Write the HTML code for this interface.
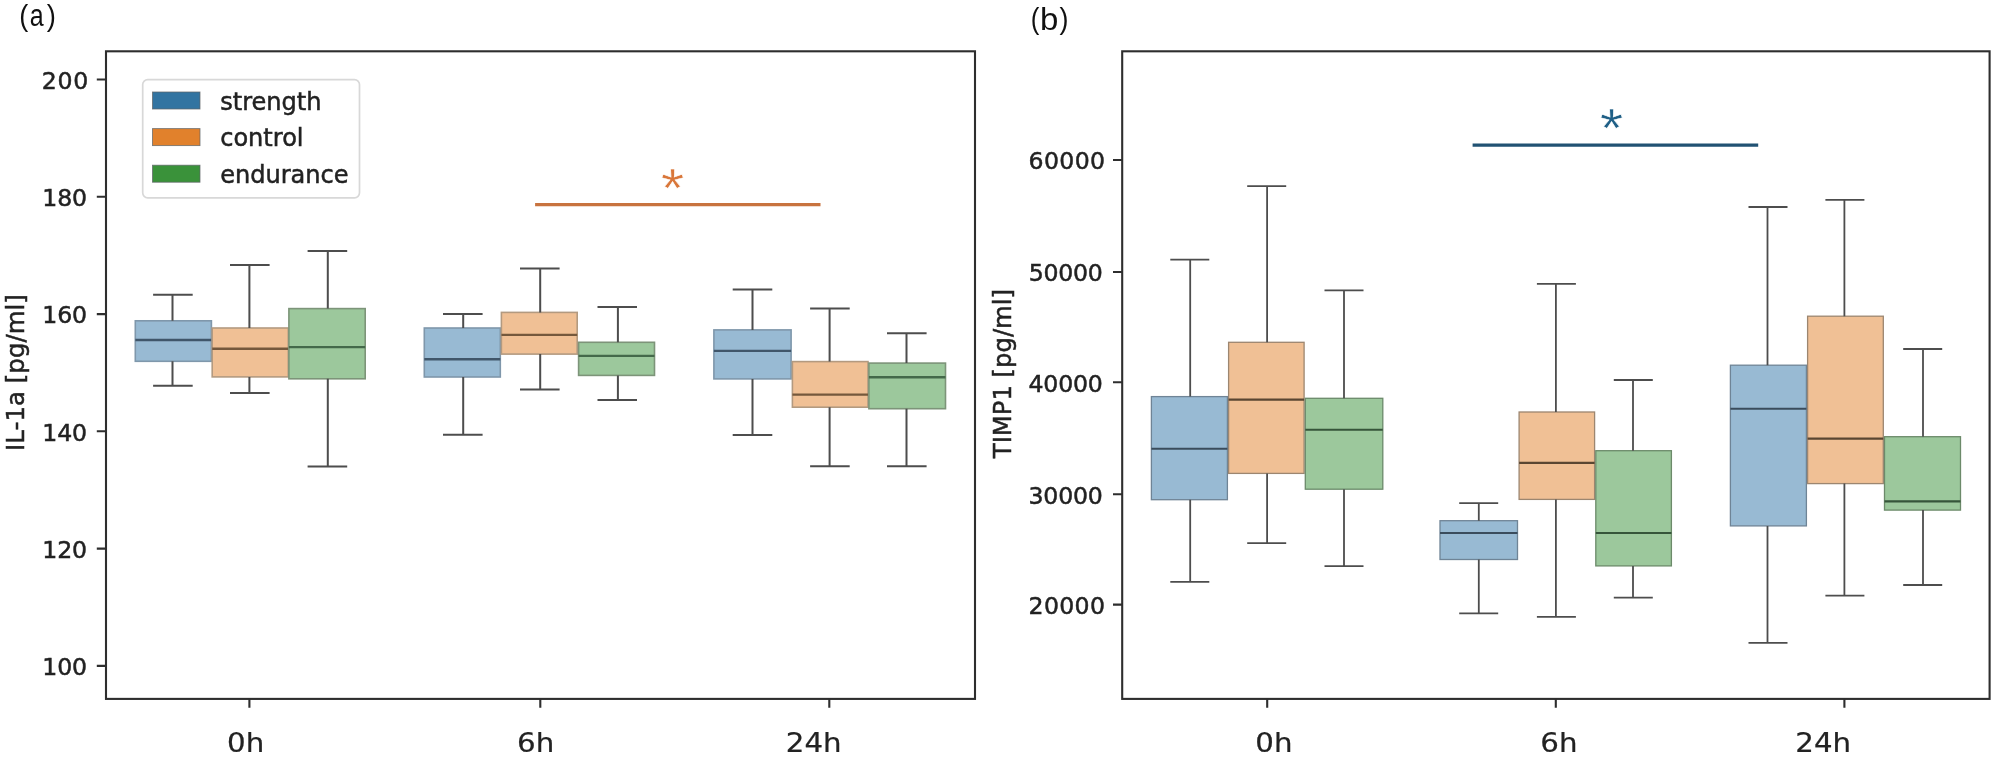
<!DOCTYPE html>
<html lang="en"><head><meta charset="utf-8"><title>Boxplots</title>
<style>
html,body{margin:0;padding:0;background:#fff}
svg{display:block;filter:blur(0.3px)}
text{font-family:"DejaVu Sans", "Liberation Sans", sans-serif;fill:#222;stroke:#222;stroke-width:0.5px}
.ast{font-family:"Liberation Mono","Liberation Sans",monospace;stroke:#fff;stroke-width:0.6px}
.cal{font-family:"Liberation Sans", "DejaVu Sans", sans-serif;fill:#111;stroke:none}
</style></head><body>
<svg width="2008" height="758" viewBox="0 0 2008 758">
<rect width="2008" height="758" fill="#fff"/>
<g id="panel-a">
<rect x="135.3" y="320.8" width="76.1" height="40.5" fill="#98bad3" stroke="#7f97ab" stroke-width="1.6"/>
<path d="M172.5 320.8V294.8M172.5 361.3V385.8M153.1 294.8H192.7M153.1 385.8H192.7" stroke="#4d4d4d" stroke-width="2.0" fill="none"/>
<path d="M135.3 340.0H211.4" stroke="#40566a" stroke-width="2.4" fill="none"/>
<rect x="212.2" y="328.0" width="76.1" height="48.9" fill="#f0c095" stroke="#b39a80" stroke-width="1.6"/>
<path d="M249.4 328.0V265.1M249.4 376.9V392.9M230.0 265.1H269.6M230.0 392.9H269.6" stroke="#4d4d4d" stroke-width="2.0" fill="none"/>
<path d="M212.2 348.8H288.3" stroke="#75583c" stroke-width="2.4" fill="none"/>
<rect x="288.9" y="308.6" width="76.3" height="70.2" fill="#9cc89c" stroke="#7d9479" stroke-width="1.6"/>
<path d="M327.8 308.6V251.0M327.8 378.8V466.4M307.6 251.0H347.2M307.6 466.4H347.2" stroke="#4d4d4d" stroke-width="2.0" fill="none"/>
<path d="M288.9 347.1H365.2" stroke="#44694a" stroke-width="2.4" fill="none"/>
<rect x="424.3" y="328.0" width="76.0" height="49.0" fill="#98bad3" stroke="#7f97ab" stroke-width="1.6"/>
<path d="M463.2 328.0V314.0M463.2 377.0V434.8M443.0 314.0H482.6M443.0 434.8H482.6" stroke="#4d4d4d" stroke-width="2.0" fill="none"/>
<path d="M424.3 359.3H500.3" stroke="#40566a" stroke-width="2.4" fill="none"/>
<rect x="501.4" y="312.4" width="75.8" height="41.7" fill="#f0c095" stroke="#b39a80" stroke-width="1.6"/>
<path d="M540.2 312.4V268.5M540.2 354.1V389.4M520.0 268.5H559.6M520.0 389.4H559.6" stroke="#4d4d4d" stroke-width="2.0" fill="none"/>
<path d="M501.4 334.9H577.2" stroke="#75583c" stroke-width="2.4" fill="none"/>
<rect x="578.6" y="342.3" width="75.9" height="33.1" fill="#9cc89c" stroke="#7d9479" stroke-width="1.6"/>
<path d="M617.9 342.3V307.1M617.9 375.4V399.9M597.5 307.1H637.0M597.5 399.9H637.0" stroke="#4d4d4d" stroke-width="2.0" fill="none"/>
<path d="M578.6 355.9H654.5" stroke="#44694a" stroke-width="2.4" fill="none"/>
<rect x="713.9" y="329.9" width="77.2" height="49.0" fill="#98bad3" stroke="#7f97ab" stroke-width="1.6"/>
<path d="M752.5 329.9V289.5M752.5 378.9V434.9M732.7 289.5H772.3M732.7 434.9H772.3" stroke="#4d4d4d" stroke-width="2.0" fill="none"/>
<path d="M713.9 350.9H791.1" stroke="#40566a" stroke-width="2.4" fill="none"/>
<rect x="792.4" y="361.6" width="75.6" height="45.6" fill="#f0c095" stroke="#b39a80" stroke-width="1.6"/>
<path d="M829.6 361.6V308.6M829.6 407.2V466.3M810.1 308.6H849.7M810.1 466.3H849.7" stroke="#4d4d4d" stroke-width="2.0" fill="none"/>
<path d="M792.4 394.6H868.0" stroke="#75583c" stroke-width="2.4" fill="none"/>
<rect x="868.9" y="363.1" width="76.6" height="45.6" fill="#9cc89c" stroke="#7d9479" stroke-width="1.6"/>
<path d="M906.5 363.1V333.2M906.5 408.7V466.3M887.0 333.2H926.6M887.0 466.3H926.6" stroke="#4d4d4d" stroke-width="2.0" fill="none"/>
<path d="M868.9 377.3H945.5" stroke="#44694a" stroke-width="2.4" fill="none"/>
<rect x="106.0" y="51.3" width="869.0" height="647.6" fill="none" stroke="#2e2e2e" stroke-width="2.1"/>
<path d="M96.8 79.5H106.0M96.8 196.8H106.0M96.8 314.1H106.0M96.8 431.3H106.0M96.8 548.6H106.0M96.8 665.9H106.0M249.4 698.9V707.7M540.3 698.9V707.7M829.3 698.9V707.7" stroke="#2e2e2e" stroke-width="2.1" fill="none"/>
<text x="89.00" y="89.0" text-anchor="end" font-size="23.6" letter-spacing="0.7">200</text>
<text x="86.73" y="206.0" text-anchor="end" font-size="23.6" letter-spacing="-0.22">180</text>
<text x="86.73" y="323.0" text-anchor="end" font-size="23.6" letter-spacing="-0.22">160</text>
<text x="86.73" y="441.0" text-anchor="end" font-size="23.6" letter-spacing="-0.22">140</text>
<text x="86.73" y="558.0" text-anchor="end" font-size="23.6" letter-spacing="-0.22">120</text>
<text x="86.73" y="675.0" text-anchor="end" font-size="23.6" letter-spacing="-0.22">100</text>
<text transform="translate(245.6 752.4) scale(1.05 0.955)" text-anchor="middle" font-size="27.9" style="stroke-width:0.25px">0h</text>
<text transform="translate(535.6 752.4) scale(1.05 0.955)" text-anchor="middle" font-size="27.9" style="stroke-width:0.25px">6h</text>
<text transform="translate(813.7 752.4) scale(1.05 0.955)" text-anchor="middle" font-size="27.9" style="stroke-width:0.25px">24h</text>
</g>
<g id="panel-b">
<rect x="1151.4" y="396.6" width="76.0" height="103.1" fill="#98bad3" stroke="#6f8496" stroke-width="1.3"/>
<path d="M1190.2 396.6V259.7M1190.2 499.7V581.8M1170.3 259.7H1209.3M1170.3 581.8H1209.3" stroke="#4d4d4d" stroke-width="1.8" fill="none"/>
<path d="M1151.4 448.8H1227.4" stroke="#3a4c5c" stroke-width="2.1" fill="none"/>
<rect x="1228.6" y="342.3" width="75.5" height="131.1" fill="#f0c095" stroke="#9c8670" stroke-width="1.3"/>
<path d="M1267.1 342.3V186.2M1267.1 473.4V543.2M1247.2 186.2H1286.2M1247.2 543.2H1286.2" stroke="#4d4d4d" stroke-width="1.8" fill="none"/>
<path d="M1228.6 399.6H1304.1" stroke="#5a4632" stroke-width="2.1" fill="none"/>
<rect x="1305.3" y="398.3" width="77.5" height="90.9" fill="#9cc89c" stroke="#6c8a6a" stroke-width="1.3"/>
<path d="M1344.0 398.3V290.4M1344.0 489.2V566.1M1324.5 290.4H1363.5M1324.5 566.1H1363.5" stroke="#4d4d4d" stroke-width="1.8" fill="none"/>
<path d="M1305.3 429.8H1382.8" stroke="#36553a" stroke-width="2.1" fill="none"/>
<rect x="1440.0" y="520.7" width="77.5" height="38.8" fill="#98bad3" stroke="#6f8496" stroke-width="1.3"/>
<path d="M1478.8 520.7V503.2M1478.8 559.5V613.3M1459.2 503.2H1498.2M1459.2 613.3H1498.2" stroke="#4d4d4d" stroke-width="1.8" fill="none"/>
<path d="M1440.0 533.0H1517.5" stroke="#3a4c5c" stroke-width="2.1" fill="none"/>
<rect x="1519.1" y="412.0" width="75.5" height="87.4" fill="#f0c095" stroke="#9c8670" stroke-width="1.3"/>
<path d="M1555.9 412.0V283.9M1555.9 499.4V616.9M1536.9 283.9H1575.9M1536.9 616.9H1575.9" stroke="#4d4d4d" stroke-width="1.8" fill="none"/>
<path d="M1519.1 462.9H1594.6" stroke="#5a4632" stroke-width="2.1" fill="none"/>
<rect x="1595.8" y="450.7" width="75.6" height="115.2" fill="#9cc89c" stroke="#6c8a6a" stroke-width="1.3"/>
<path d="M1633.0 450.7V380.0M1633.0 565.9V597.6M1613.8 380.0H1652.8M1613.8 597.6H1652.8" stroke="#4d4d4d" stroke-width="1.8" fill="none"/>
<path d="M1595.8 533.0H1671.4" stroke="#36553a" stroke-width="2.1" fill="none"/>
<rect x="1730.4" y="365.2" width="76.0" height="160.7" fill="#98bad3" stroke="#6f8496" stroke-width="1.3"/>
<path d="M1767.5 365.2V207.0M1767.5 525.9V642.8M1748.5 207.0H1787.5M1748.5 642.8H1787.5" stroke="#4d4d4d" stroke-width="1.8" fill="none"/>
<path d="M1730.4 408.8H1806.4" stroke="#3a4c5c" stroke-width="2.1" fill="none"/>
<rect x="1807.6" y="316.2" width="75.7" height="167.4" fill="#f0c095" stroke="#9c8670" stroke-width="1.3"/>
<path d="M1844.4 316.2V199.9M1844.4 483.6V595.6M1825.4 199.9H1864.4M1825.4 595.6H1864.4" stroke="#4d4d4d" stroke-width="1.8" fill="none"/>
<path d="M1807.6 438.6H1883.3" stroke="#5a4632" stroke-width="2.1" fill="none"/>
<rect x="1884.5" y="436.7" width="76.0" height="73.4" fill="#9cc89c" stroke="#6c8a6a" stroke-width="1.3"/>
<path d="M1923.0 436.7V349.0M1923.0 510.1V585.0M1903.2 349.0H1942.2M1903.2 585.0H1942.2" stroke="#4d4d4d" stroke-width="1.8" fill="none"/>
<path d="M1884.5 501.4H1960.5" stroke="#36553a" stroke-width="2.1" fill="none"/>
<rect x="1122.2" y="51.3" width="867.4" height="647.6" fill="none" stroke="#2e2e2e" stroke-width="2.1"/>
<path d="M1113.0 160.0H1122.2M1113.0 272.0H1122.2M1113.0 382.3H1122.2M1113.0 494.3H1122.2M1113.0 604.6H1122.2M1267.2 698.9V707.7M1555.8 698.9V707.7M1844.4 698.9V707.7" stroke="#2e2e2e" stroke-width="2.1" fill="none"/>
<text x="1105.35" y="169.0" text-anchor="end" font-size="23.6" letter-spacing="0.34">60000</text>
<text x="1102.65" y="281.0" text-anchor="end" font-size="23.6" letter-spacing="-0.22">50000</text>
<text x="1102.65" y="392.0" text-anchor="end" font-size="23.6" letter-spacing="-0.19">40000</text>
<text x="1102.65" y="504.0" text-anchor="end" font-size="23.6" letter-spacing="-0.19">30000</text>
<text x="1105.35" y="614.0" text-anchor="end" font-size="23.6" letter-spacing="0.35">20000</text>
<text transform="translate(1273.9 752.4) scale(1.05 0.955)" text-anchor="middle" font-size="27.9" style="stroke-width:0.25px">0h</text>
<text transform="translate(1558.9 752.4) scale(1.05 0.955)" text-anchor="middle" font-size="27.9" style="stroke-width:0.25px">6h</text>
<text transform="translate(1823.2 752.4) scale(1.05 0.955)" text-anchor="middle" font-size="27.9" style="stroke-width:0.25px">24h</text>
</g>
<g id="legend">
<rect x="142.7" y="79.6" width="216.8" height="118.2" rx="5" ry="5" fill="#fff" fill-opacity="0.8" stroke="#d8d8d8" stroke-width="1.7"/>
<rect x="152.5" y="92" width="47.5" height="17" fill="#3274a1" stroke="#5f6468" stroke-width="0.9" stroke-opacity="0.8"/>
<rect x="152.5" y="128.6" width="47.5" height="17" fill="#e1812c" stroke="#5f6468" stroke-width="0.9" stroke-opacity="0.8"/>
<rect x="152.5" y="165.2" width="47.5" height="17" fill="#3a923a" stroke="#5f6468" stroke-width="0.9" stroke-opacity="0.8"/>
<text x="220.2" y="109.6" font-size="24.05">strength</text>
<text x="220.2" y="146.2" font-size="24.05">control</text>
<text x="220.2" y="182.8" font-size="24.05">endurance</text>
</g>
<g id="sig">
<path d="M535.1 204.7H820.5" stroke="#c8733f" stroke-width="3.2"/>
<text class="ast" transform="translate(672.6 176.8) scale(1.04 0.96)" x="0" y="33.2" text-anchor="middle" font-size="58" style="fill:#d9773a">*</text>
<path d="M1472.6 145.2H1758.2" stroke="#215273" stroke-width="3.2"/>
<text class="ast" transform="translate(1611.7 116.9) scale(1.04 0.96)" x="0" y="33.2" text-anchor="middle" font-size="58" style="fill:#1f5f86">*</text>
</g>
<text transform="translate(23.7 372.5) rotate(-90)" text-anchor="middle" font-size="24.5">IL-1a [pg/ml]</text>
<text transform="translate(1010.7 373.6) rotate(-90)" text-anchor="middle" font-size="24.3">TIMP1 [pg/ml]</text>
<text class="cal" font-size="30"><tspan x="19.2" y="25.5" textLength="9.04" lengthAdjust="spacingAndGlyphs">(</tspan><tspan x="29.83" y="26.0" font-size="30.6" textLength="13.91" lengthAdjust="spacingAndGlyphs">a</tspan><tspan x="46.7" y="25.5" textLength="9.14" lengthAdjust="spacingAndGlyphs">)</tspan></text>
<text class="cal" font-size="30"><tspan x="1030.75" y="28.55" font-size="30.15" textLength="8.62" lengthAdjust="spacingAndGlyphs">(</tspan><tspan x="1040.1" y="29.54" font-size="31.44" textLength="18.35" lengthAdjust="spacingAndGlyphs">b</tspan><tspan x="1059.42" y="28.55" font-size="30.15" textLength="8.99" lengthAdjust="spacingAndGlyphs">)</tspan></text>
</svg>
</body></html>
